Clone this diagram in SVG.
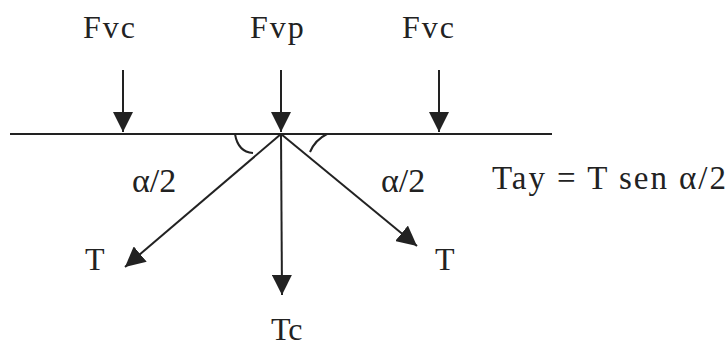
<svg xmlns="http://www.w3.org/2000/svg" width="728" height="350" viewBox="0 0 728 350">
<style>
.t{font-family:"Liberation Serif","Times New Roman",serif;fill:#222}
.l{stroke:#222;stroke-width:2;fill:none}
</style>
<defs>
<marker id="ah" viewBox="0 0 20 20" refX="20" refY="10" markerWidth="20" markerHeight="20" markerUnits="userSpaceOnUse" orient="auto">
<path d="M0,0 L20,10 L0,20 Z" fill="#222"/>
</marker>
</defs>
<rect width="728" height="350" fill="#fff"/>
<g id="beam"><line class="l" x1="10" y1="134" x2="552" y2="134"/></g>
<g id="connectors">
<line class="l" x1="123" y1="70" x2="123" y2="132" marker-end="url(#ah)"/>
<line class="l" x1="281" y1="70" x2="281" y2="132" marker-end="url(#ah)"/>
<line class="l" x1="439" y1="70" x2="439" y2="132" marker-end="url(#ah)"/>
<line class="l" x1="281" y1="134" x2="125" y2="267" marker-end="url(#ah)"/>
<line class="l" x1="281" y1="134" x2="282" y2="295" marker-end="url(#ah)"/>
<line class="l" x1="281" y1="134" x2="417" y2="246" marker-end="url(#ah)"/>
<path class="l" d="M235,134 Q238,152 253,153"/>
<path class="l" d="M327,134 Q315,140 310,152"/>
</g>
<g id="labels">
<text class="t" x="83" y="38" style="font-size:32px;letter-spacing:2px">Fvc</text>
<text class="t" x="250" y="38" style="font-size:32px;letter-spacing:2px">Fvp</text>
<text class="t" x="402" y="38" style="font-size:32px;letter-spacing:2px">Fvc</text>
<text class="t" x="132" y="192" style="font-size:34px">α/2</text>
<text class="t" x="381" y="192" style="font-size:34px">α/2</text>
<text class="t" x="85" y="270" style="font-size:32px">T</text>
<text class="t" x="435" y="270" style="font-size:32px">T</text>
<text class="t" x="271" y="340" style="font-size:32px">Tc</text>
<text class="t" x="492" y="189" textLength="234" style="font-size:33px">Tay = T sen α/2</text>
</g>
</svg>
